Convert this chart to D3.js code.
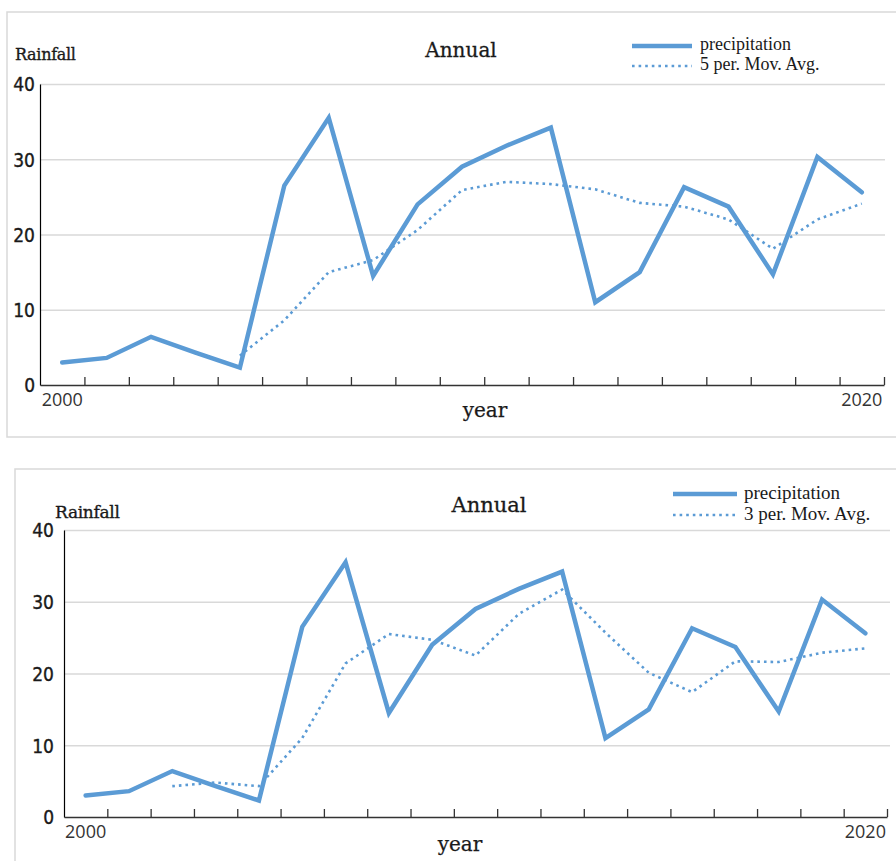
<!DOCTYPE html>
<html>
<head>
<meta charset="utf-8">
<script src="https://cdn.jsdelivr.net/npm/d3@7/dist/d3.min.js"></script>
<style>
  html, body { margin: 0; padding: 0; background: #fff; }
  svg { display: block; }
</style>
</head>
<body>
<svg id="chart" width="896" height="861"></svg>
<script>
// ---------- DATA ----------
const periods = [1, 2, 3, 4, 5, 6, 7, 8, 9, 10, 11, 12, 13, 14, 15, 16, 17, 18, 19];
const xTickLabels = ["2000", "2020"];           // shown on first and last period
const yTicks = [0, 10, 20, 30, 40];
const precipitation = [3.0, 3.6, 6.4, 4.3, 2.3, 26.5, 35.5, 14.5, 24.0, 29.0, 31.8, 34.2, 11.0, 15.0, 26.3, 23.7, 14.7, 30.3, 25.6];
const movAvg5 = [null, null, null, null, 3.9, 8.6, 15.0, 16.6, 20.6, 25.9, 27.0, 26.7, 26.0, 24.2, 23.7, 22.0, 18.1, 22.0, 24.1];
const movAvg3 = [null, null, 4.3, 4.8, 4.3, 11.0, 21.4, 25.5, 24.7, 22.5, 28.3, 31.7, 25.7, 20.1, 17.4, 21.7, 21.6, 22.9, 23.5];
const seriesNames = ["precipitation", "5 per. Mov. Avg.", "3 per. Mov. Avg."];
const titleText = "Annual";
const yTitle = "Rainfall";
const xTitle = "year";

// ---------- STYLE ----------
const BLUE = "#5b9bd5";
const INK = "#1a1a1a";
const svg = d3.select("#chart");

function drawChart(cfg) {
  const g = svg.append("g");
  // frame
  g.append("rect")
    .attr("x", cfg.box[0]).attr("y", cfg.box[1])
    .attr("width", cfg.box[2]).attr("height", cfg.box[3])
    .attr("fill", "#fff").attr("stroke", "#d9d9d9").attr("stroke-width", 1.5);

  const x = d3.scaleBand().domain(periods).range([cfg.left, cfg.right]).paddingInner(0).paddingOuter(0);
  const xb = d3.scaleLinear().domain([0, periods.length]).range([cfg.left, cfg.right]);
  const y = d3.scaleLinear().domain([0, 40]).range([cfg.bottom, cfg.top]);
  const cx = d => x(d) + x.bandwidth() / 2;

  // gridlines
  const grid = g.append("g").attr("transform", `translate(${cfg.left},0)`)
    .call(d3.axisLeft(y).tickValues(yTicks.slice(1)).tickSize(-(cfg.gridRight - cfg.left)).tickFormat(""));
  grid.select(".domain").remove();
  grid.selectAll("line").attr("stroke", "#d9d9d9").attr("stroke-width", 1.3);

  // y axis
  const ya = g.append("g").attr("transform", `translate(${cfg.left},0)`)
    .call(d3.axisLeft(y).tickValues(yTicks).tickSize(0).tickPadding(cfg.yPad));
  ya.select(".domain").attr("stroke", "#000").attr("stroke-width", 1.2);
  ya.selectAll("text").attr("font-family", "'DejaVu Sans Condensed', 'DejaVu Sans', sans-serif")
    .attr("font-size", 19).attr("fill", INK).attr("stroke", INK).attr("stroke-width", 0.35)
    .attr("dy", "0.36em");

  // x axis ticks (band boundaries)
  const xa = g.append("g").attr("transform", `translate(0,${cfg.bottom})`)
    .call(d3.axisBottom(xb).tickValues(d3.range(1, periods.length + 1)).tickSize(-8).tickFormat("").tickSizeOuter(0));
  xa.select(".domain").attr("stroke", "#333").attr("stroke-width", 1.3);
  xa.selectAll("line").attr("stroke", "#333").attr("stroke-width", 1.3);

  // x labels
  const labelMap = new Map([[periods[0], xTickLabels[0]], [periods[periods.length - 1], xTickLabels[1]]]);
  const xl = g.append("g").attr("transform", `translate(0,${cfg.bottom})`)
    .call(d3.axisBottom(x).tickValues([periods[0], periods[periods.length - 1]]).tickSize(0).tickPadding(0)
      .tickFormat(d => labelMap.get(d)));
  xl.select(".domain").remove();
  xl.selectAll("text").attr("font-family", "'Open Sans', sans-serif").attr("font-size", 18)
    .attr("fill", "#333").attr("dy", null).attr("y", 21);

  // lines
  const line = d3.line().defined(d => d.v !== null).x(d => cx(d.p)).y(d => y(d.v));
  const mainData = periods.map((p, i) => ({ p, v: precipitation[i] }));
  const avgData = periods.map((p, i) => ({ p, v: cfg.avg[i] }));

  g.append("path").datum(avgData).attr("d", line)
    .attr("fill", "none").attr("stroke", BLUE).attr("stroke-width", 2.6)
    .attr("stroke-dasharray", "2.6,4").attr("stroke-linecap", "butt");
  g.append("path").datum(mainData).attr("d", line)
    .attr("fill", "none").attr("stroke", BLUE).attr("stroke-width", 4.5)
    .attr("stroke-linejoin", "miter").attr("stroke-linecap", "round");

  // titles
  g.append("text").attr("x", cfg.titleX).attr("y", cfg.titleY).attr("text-anchor", "middle")
    .attr("font-family", "'DejaVu Serif', serif").attr("font-size", cfg.titleSize)
    .attr("fill", INK).attr("stroke", INK).attr("stroke-width", 0.3)
    .text(titleText);
  g.append("text").attr("x", cfg.yTitleX).attr("y", cfg.yTitleY)
    .attr("font-family", "'DejaVu Serif', serif").attr("font-size", cfg.yTitleSize)
    .attr("fill", INK).attr("stroke", INK).attr("stroke-width", 0.35)
    .attr("letter-spacing", -0.3).text(yTitle);
  g.append("text").attr("x", cfg.xTitleX).attr("y", cfg.xTitleY).attr("text-anchor", "middle")
    .attr("font-family", "'DejaVu Serif', serif").attr("font-size", 20)
    .attr("fill", INK).attr("stroke", INK).attr("stroke-width", 0.25)
    .text(xTitle);

  // legend
  const lg = g.append("g");
  const L = cfg.legend;
  lg.append("line").attr("x1", L.x0).attr("x2", L.x1).attr("y1", L.y0).attr("y2", L.y0)
    .attr("stroke", BLUE).attr("stroke-width", 4.5);
  lg.append("line").attr("x1", L.x0).attr("x2", L.x1).attr("y1", L.y1).attr("y2", L.y1)
    .attr("stroke", BLUE).attr("stroke-width", 2.6).attr("stroke-dasharray", "2.6,4");
  lg.append("text").attr("x", L.tx).attr("y", L.y0 + L.base)
    .attr("font-family", "'Liberation Serif', 'Times New Roman', serif").attr("font-size", L.size).attr("fill", INK)
    .text(seriesNames[0]);
  lg.append("text").attr("x", L.tx).attr("y", L.y1 + L.base)
    .attr("font-family", "'Liberation Serif', 'Times New Roman', serif").attr("font-size", L.size).attr("fill", INK)
    .text(cfg.avgName);
}

drawChart({
  box: [7, 12, 900, 425],
  left: 40, right: 884, gridRight: 885, top: 84, bottom: 385, yPad: 5,
  avg: movAvg5, avgName: seriesNames[1],
  titleX: 461, titleY: 57, titleSize: 20,
  yTitleX: 15, yTitleY: 60, yTitleSize: 16,
  xTitleX: 485, xTitleY: 417,
  legend: { x0: 632, x1: 692, y0: 46, y1: 66, tx: 700, base: 4, size: 18 }
});

drawChart({
  box: [15, 469, 900, 420],
  left: 64, right: 887, gridRight: 890, top: 530, bottom: 817, yPad: 10,
  avg: movAvg3, avgName: seriesNames[2],
  titleX: 489, titleY: 512, titleSize: 21,
  yTitleX: 55, yTitleY: 518, yTitleSize: 17,
  xTitleX: 460, xTitleY: 851,
  legend: { x0: 673, x1: 737, y0: 494, y1: 515, tx: 744, base: 5, size: 19 }
});
</script>
</body>
</html>
